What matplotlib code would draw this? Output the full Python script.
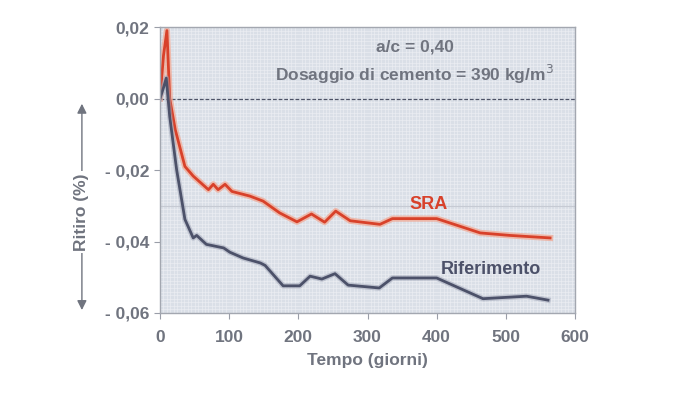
import matplotlib
matplotlib.use('Agg')
import matplotlib.pyplot as plt
from matplotlib.ticker import MultipleLocator

# Data (days, shrinkage %)
sra_days = [0, 5, 10, 14, 22, 36, 48, 70, 77, 84, 94, 104, 130, 149, 173,
            198, 219, 238, 254, 275, 318, 336, 400, 463, 506, 564]
sra_vals = [0.000, 0.012, 0.019, 0.000, -0.0087, -0.019, -0.0217, -0.0255,
            -0.024, -0.0255, -0.024, -0.026, -0.0273, -0.0287, -0.032,
            -0.0345, -0.0323, -0.0346, -0.0315, -0.0342, -0.0352, -0.0336,
            -0.0336, -0.0376, -0.0383, -0.039]

rif_days = [0, 5, 9, 14, 24, 36, 48, 53, 67, 92, 101, 120, 145, 152, 178,
            202, 217, 234, 253, 272, 317, 336, 400, 467, 530, 561]
rif_vals = [0.000, 0.003, 0.0057, -0.005, -0.0199, -0.0338, -0.039, -0.0383,
            -0.0408, -0.0418, -0.043, -0.0446, -0.046, -0.0467, -0.0524,
            -0.0524, -0.0497, -0.0505, -0.049, -0.0522, -0.053, -0.0502,
            -0.0502, -0.056, -0.0553, -0.0564]

x_ticks = [0, 100, 200, 300, 400, 500, 600]
y_ticks = [0.02, 0.00, -0.02, -0.04, -0.06]
y_labels = ['0,02', '0,00', '- 0,02', '- 0,04', '- 0,06']

red = '#d8412a'
blue = '#4c5169'
grey = '#70747f'
plt.rcParams['font.family'] = ['Liberation Sans', 'DejaVu Sans']

fig = plt.figure(figsize=(7, 3.96), dpi=100)
ax = fig.add_axes([0.2286, 0.2096, 0.5928, 0.7222])
ax.set_facecolor('#dadfe7')

# fine texture grid
ax.xaxis.set_minor_locator(MultipleLocator(5))
ax.yaxis.set_minor_locator(MultipleLocator(0.001))
ax.grid(which='minor', color='#eef0f4', lw=0.5, alpha=0.8)
ax.tick_params(which='minor', length=0)
ax.axhline(-0.03, color='#c6cad3', lw=0.8)
ax.axhline(0, color='#4d5266', lw=0.9, ls=(0, (3, 1.5)))

# halo + line
ax.plot(sra_days, sra_vals, color='#f2a58f', lw=4.5, alpha=0.7, solid_joinstyle='round')
ax.plot(sra_days, sra_vals, color=red, lw=2.0, solid_joinstyle='round')
ax.plot(rif_days, rif_vals, color='#9ea3b5', lw=4, alpha=0.5, solid_joinstyle='round')
ax.plot(rif_days, rif_vals, color=blue, lw=2.0, solid_joinstyle='round')

ax.set_xlim(0, 600)
ax.set_ylim(-0.06, 0.02)
ax.set_xticks(x_ticks)
ax.set_yticks(y_ticks)
ax.set_yticklabels(y_labels)
ax.tick_params(axis='both', which='major', colors='#9a9ea8', length=4,
               labelcolor=grey, labelsize=12.5)
for lab in ax.get_xticklabels() + ax.get_yticklabels():
    lab.set_fontweight('bold')
ax.tick_params(axis='x', pad=8)
for s in ax.spines.values():
    s.set_color('#a3a7b0')
    s.set_linewidth(1)

ax.text(368, 0.0143, 'a/c = 0,40', ha='center', va='center', color=grey,
        fontsize=12.5, fontweight='bold')
ax.text(368, 0.0067, 'Dosaggio di cemento = 390 kg/m$^3$', ha='center', va='center',
        color=grey, fontsize=12.5, fontweight='bold')
ax.text(389, -0.0297, 'SRA', ha='center', va='center', color=red,
        fontsize=13, fontweight='bold')
ax.text(478, -0.0478, 'Riferimento', ha='center', va='center', color=blue,
        fontsize=13, fontweight='bold')

ax.set_xlabel('Tempo (giorni)', color=grey, fontsize=12.5, fontweight='bold', labelpad=6)

# y label with double arrow
fig.patches.append(matplotlib.patches.FancyArrowPatch(
    (0.117, 0.745), (0.117, 0.21), transform=fig.transFigure,
    arrowstyle='<|-|>', mutation_scale=14, color=grey, lw=1.0))
fig.text(0.117, 0.465, 'Ritiro (%)', rotation=90, ha='center', va='center',
         color=grey, fontsize=12.5, fontweight='bold',
         bbox=dict(facecolor='white', edgecolor='none', pad=1.5))

fig.savefig('out.png', dpi=100)
